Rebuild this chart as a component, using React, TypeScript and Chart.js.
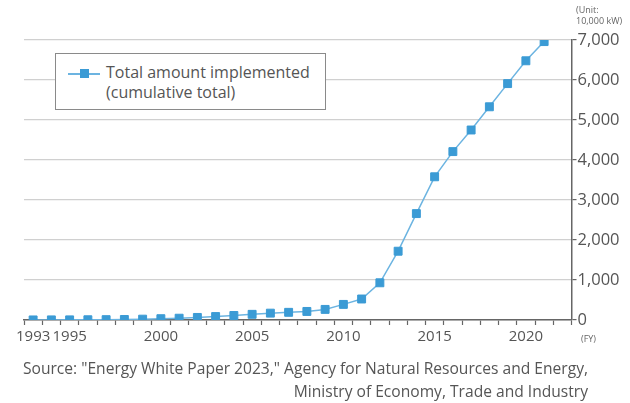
import React, { useEffect, useRef } from "react";
import { Chart, registerables } from "chart.js";

Chart.register(...registerables);

const years: string[] = [
  "1993", "1994", "1995", "1996", "1997", "1998", "1999", "2000", "2001", "2002",
  "2003", "2004", "2005", "2006", "2007", "2008", "2009", "2010", "2011", "2012",
  "2013", "2014", "2015", "2016", "2017", "2018", "2019", "2020", "2021", "2022",
];
const totals: (number | null)[] = [
  2, 3, 4, 6, 9, 13, 21, 33, 45, 64,
  86, 113, 142, 171, 192, 214, 265, 390, 525, 930,
  1720, 2660, 3580, 4210, 4750, 5330, 5910, 6480, 6960, null,
];
const shownYears: string[] = ["1993", "1995", "2000", "2005", "2010", "2015", "2020"];
const yTicks: number[] = [0, 1000, 2000, 3000, 4000, 5000, 6000, 7000];

const FONT = "'Open Sans', 'Noto Sans', sans-serif";
const TEXT = "#555555";
const LINE = "#6cb4e1";
const MARK = "#3b9bd5";

export default function App() {
  const ref = useRef<HTMLCanvasElement | null>(null);
  useEffect(() => {
    if (!ref.current) return;
    const chart = new Chart(ref.current, {
      type: "line",
      data: {
        labels: years,
        datasets: [
          {
            label: "Total amount implemented (cumulative total)",
            data: totals,
            borderColor: LINE,
            borderWidth: 1.5,
            backgroundColor: MARK,
            pointBackgroundColor: MARK,
            pointBorderColor: MARK,
            pointBorderWidth: 1,
            pointStyle: "rect",
            pointRadius: 5.6,
            tension: 0,
          },
        ],
      },
      options: {
        animation: false,
        responsive: false,
        maintainAspectRatio: false,
        layout: { padding: { left: 24, top: 40, right: 0, bottom: 0 } },
        plugins: { legend: { display: false }, tooltip: { enabled: false } },
        scales: {
          x: {
            type: "category",
            offset: true,
            afterFit: (s: any) => { s.height = 83; },
            grid: {
              offset: true,
              drawOnChartArea: false,
              drawTicks: true,
              tickLength: 5,
              tickColor: "#666666",
              tickWidth: 1.2,
            },
            border: { display: true, color: "#666666", width: 1.5 },
            ticks: {
              autoSkip: false,
              maxRotation: 0,
              minRotation: 0,
              padding: 3,
              color: TEXT,
              font: { family: FONT, size: 15 },
              callback: function (this: any, v: any) {
                const l = years[v as number];
                return shownYears.includes(l) ? l : "";
              },
            },
          },
          y: {
            position: "right",
            min: 0,
            max: 7000,
            afterFit: (s: any) => { s.width = 58.5; },
            afterBuildTicks: (s: any) => { s.ticks = yTicks.map((v) => ({ value: v })); },
            grid: {
              color: "#d0d0d0",
              lineWidth: 1.2,
              tickLength: 5,
              tickColor: "#666666",
              tickWidth: 1.2,
            },
            border: { display: true, color: "#666666", width: 1.5 },
            ticks: {
              padding: 1,
              color: TEXT,
              font: { family: FONT, size: 16.5 },
              callback: (v: any) => Number(v).toLocaleString("en-US"),
            },
          },
        },
      },
    });
    return () => chart.destroy();
  }, []);

  return (
    <div style={{ position: "absolute", left: 0, top: 0, width: 630, height: 403, background: "#fff", fontFamily: FONT, color: TEXT }}>
      <canvas ref={ref} width={630} height={403} style={{ position: "absolute", left: 0, top: 0, width: 630, height: 403 }} />
      <div style={{ position: "absolute", left: 576, top: 4, fontSize: 9, lineHeight: "11px", color: "#666" }}>
        (Unit:<br />10,000 kW)
      </div>
      <div style={{ position: "absolute", left: 581, top: 332, fontSize: 9, color: "#666" }}>(FY)</div>
      <div style={{ position: "absolute", left: 55, top: 53, width: 269, height: 55, border: "1px solid #8a8a8a", background: "#fff" }}>
        <div style={{ position: "absolute", left: 12, top: 19, width: 32, height: 1.5, background: LINE }} />
        <div style={{ position: "absolute", left: 24, top: 15, width: 9, height: 9, background: MARK }} />
        <div style={{ position: "absolute", left: 50, top: 8, fontSize: 16, lineHeight: "20px", whiteSpace: "nowrap" }}>
          Total amount implemented<br />(cumulative total)
        </div>
      </div>
      <div style={{ position: "absolute", right: 42, top: 357, fontSize: 15.6, lineHeight: "23px", textAlign: "right", whiteSpace: "nowrap" }}>
        Source: "Energy White Paper 2023," Agency for Natural Resources and Energy,<br />
        Ministry of Economy, Trade and Industry
      </div>
    </div>
  );
}
